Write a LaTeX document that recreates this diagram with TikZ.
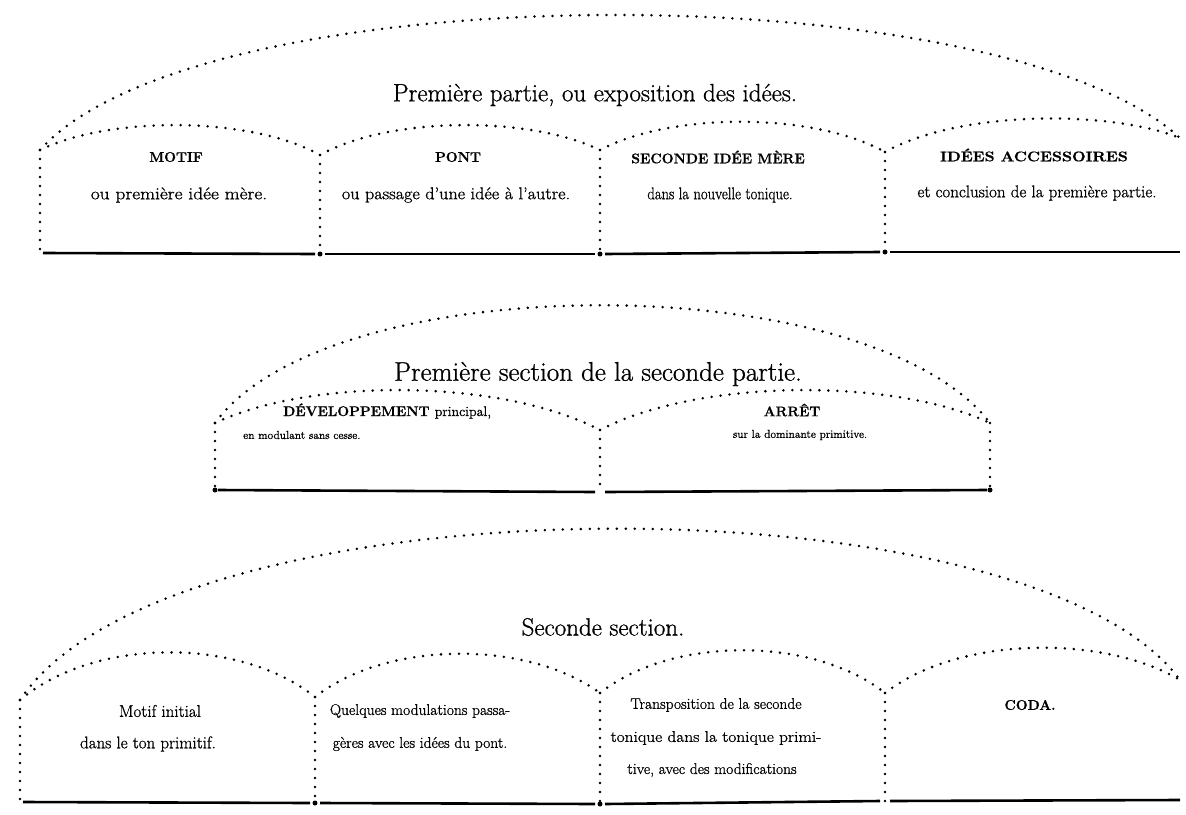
\documentclass[tikz,border=0pt]{standalone}
\usepackage{fontspec}
\usepackage{graphicx}
\newfontfamily\heavyrm[FakeBold=0.9,Ligatures=TeX]{Latin Modern Roman}
\begin{document}
\begin{tikzpicture}[x=1pt,y=-1pt,
  dotline/.style={line width=2.8pt, line cap=round, dash pattern=on 0pt off 9pt, color=black},
  bottomline/.style={line width=2.6pt, color=black},
  joint/.style={circle, fill=black, inner sep=0pt, minimum size=5pt},
  ttl/.style={font=\heavyrm\fontsize{25}{30}\selectfont, inner sep=0pt},
  captxt/.style={font=\heavyrm\fontsize{14}{16}\selectfont\bfseries, inner sep=0pt},
  sub/.style={font=\heavyrm\fontsize{17}{20}\selectfont, inner sep=0pt, align=center},
  midsub/.style={font=\heavyrm\fontsize{15.5}{18}\selectfont, inner sep=0pt, align=center},
  smallsub/.style={font=\heavyrm\fontsize{11.5}{13}\selectfont, inner sep=0pt}]
\useasboundingbox (0,0) rectangle (1186,814);

% ---------------- Row 1 ----------------
\coordinate (a0t) at (40,150);  \coordinate (a0b) at (40,253);
\coordinate (a1t) at (320,155); \coordinate (a1b) at (320,254);
\coordinate (a2t) at (600,150); \coordinate (a2b) at (600,254);
\coordinate (a3t) at (885,152); \coordinate (a3b) at (885,252);
\coordinate (a4t) at (1180,138); \coordinate (a4b) at (1180,252);

\draw[dotline] (a0t) .. controls (200,-28) and (1000,-28) .. (a4t);
\draw[dotline] (a0t) .. controls (110,116) and (250,116) .. (a1t);
\draw[dotline] (a1t) .. controls (390,116) and (530,116) .. (a2t);
\draw[dotline] (a2t) .. controls (672,112) and (813,112) .. (a3t);
\draw[dotline] (a3t) .. controls (960,110) and (1110,110) .. (a4t);
\foreach \i in {0,1,2,3} \draw[dotline] (a\i t) -- (a\i b);
\draw[bottomline] ([xshift=3pt]a0b) -- ([xshift=-5pt]a1b);
\draw[bottomline] ([xshift=5pt]a1b) -- ([xshift=-5pt]a2b);
\draw[bottomline] ([xshift=5pt]a2b) -- ([xshift=-5pt]a3b);
\draw[bottomline] ([xshift=5pt]a3b) -- (a4b);
\node[joint] (j1) at (a1b) {};
\node[joint] (j2) at (a2b) {};
\node[joint] (j3) at (a3b) {};

\node[ttl] (t1) at (595,95) {Première partie, ou exposition des idées.};
\node[captxt] (m1) at (176,157) {MOTIF};
\node[sub] (s1) at (179,195) {\scalebox{1.14}[1]{ou première idée mère.}};
\node[captxt] (m2) at (458,157) {PONT};
\node[sub] (s2) at (456,195) {\scalebox{1.07}[1]{ou passage d’une idée à l’autre.}};
\node[captxt] (m3) at (718,157) {SECONDE IDÉE MÈRE};
\node[sub] (s3) at (720,195) {\scalebox{0.86}[1]{dans la nouvelle tonique.}};
\node[captxt] (m4) at (1034,155) {\scalebox{1.15}[1]{IDÉES ACCESSOIRES}};
\node[sub] (s4) at (1037,193) {et conclusion de la première partie.};

% ---------------- Row 2 ----------------
\coordinate (b0t) at (215,423); \coordinate (b0b) at (215,490);
\coordinate (b1t) at (600,430); \coordinate (b1b) at (600,492);
\coordinate (b2t) at (990,423); \coordinate (b2b) at (990,490);

\draw[dotline] (b0t) .. controls (330,266) and (870,266) .. (b2t);
\draw[dotline] (b0t) .. controls (310,378) and (500,378) .. (b1t);
\draw[dotline] (b1t) .. controls (700,378) and (895,378) .. (b2t);
\foreach \i in {0,1,2} \draw[dotline] (b\i t) -- (b\i b);
\draw[bottomline] ([xshift=3pt]b0b) -- ([xshift=-5pt]b1b);
\draw[bottomline] ([xshift=5pt]b1b) -- ([xshift=-3pt]b2b);
\node[joint] (j4) at (b0b) {};
\node[joint] (j5) at (b2b) {};

\node[ttl, font=\heavyrm\fontsize{27}{30}\selectfont] (t2) at (598,374) {Première section de la seconde partie.};
\node[captxt, anchor=west] (m5) at (283,411) {DÉVELOPPEMENT {\mdseries principal,}};
\node[smallsub, anchor=west] (s5) at (243,435) {en modulant sans cesse.};
\node[captxt] (m6) at (792,410) {ARRÊT};
\node[smallsub] (s6) at (800,435) {sur la dominante primitive.};

% ---------------- Row 3 ----------------
\coordinate (c0t) at (20,700);  \coordinate (c0b) at (20,802);
\coordinate (c1t) at (315,697); \coordinate (c1b) at (315,803);
\coordinate (c2t) at (600,693); \coordinate (c2b) at (600,804);
\coordinate (c3t) at (885,693); \coordinate (c3b) at (885,801);
\coordinate (c4t) at (1180,680); \coordinate (c4b) at (1180,800);

\draw[dotline] (c0t) .. controls (170,475) and (1030,475) .. (c4t);
\draw[dotline] (c0t) .. controls (95,637) and (240,637) .. (c1t);
\draw[dotline] (c1t) .. controls (387,640) and (528,640) .. (c2t);
\draw[dotline] (c2t) .. controls (672,636) and (813,636) .. (c3t);
\draw[dotline] (c3t) .. controls (960,635) and (1105,635) .. (c4t);
\foreach \i in {0,1,2,3} \draw[dotline] (c\i t) -- (c\i b);
\draw[bottomline] ([xshift=3pt]c0b) -- ([xshift=-5pt]c1b);
\draw[bottomline] ([xshift=5pt]c1b) -- ([xshift=-5pt]c2b);
\draw[bottomline] ([xshift=5pt]c2b) -- ([xshift=-5pt]c3b);
\draw[bottomline] ([xshift=5pt]c3b) -- (c4b);
\node[joint] (j6) at (c1b) {};
\node[joint] (j7) at (c2b) {};

\node[ttl] (t3) at (603,627) {Seconde section.};
\node[sub] (s7) at (160,711) {Motif initial};
\node[sub] (s8) at (148,744) {dans le ton primitif.};
\node[midsub] (s9) at (420,711) {Quelques modulations passa-};
\node[midsub] (s10) at (420,744) {gères avec les idées du pont.};
\node[midsub] (s11a) at (716,705) {Transposition de la seconde};
\node[midsub] (s11b) at (716,738) {\scalebox{1.12}[1]{tonique dans la tonique primi-}};
\node[midsub] (s11c) at (712,770) {tive, avec des modifications};
\node[captxt] (m7) at (1030,705) {CODA.};
\end{tikzpicture}
\end{document}
